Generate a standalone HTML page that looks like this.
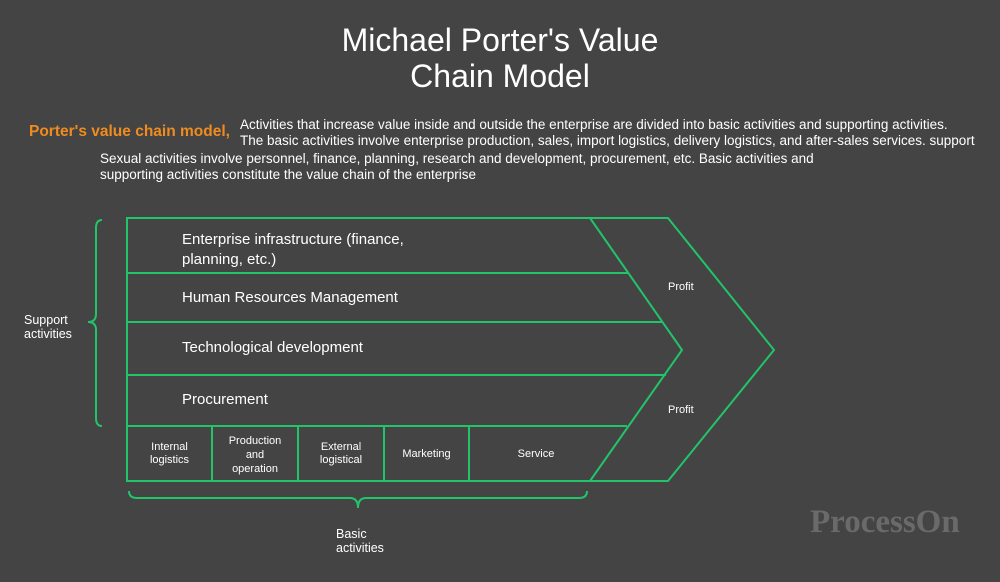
<!DOCTYPE html>
<html><head><meta charset="utf-8"><style>
html,body{margin:0;padding:0;background:#444444;}
body{width:1000px;height:582px;position:relative;overflow:hidden;font-family:"Liberation Sans",sans-serif;color:#fff;}
.t{position:absolute;white-space:nowrap;}
</style></head><body>
<div class="t" style="left:0;width:1000px;top:22px;text-align:center;font-size:32px;line-height:36px;">Michael Porter's Value<br>Chain Model</div>
<div class="t" style="left:29px;top:123px;font-size:15.5px;font-weight:bold;color:#f08c1e;">Porter's value chain model,</div>
<div class="t" style="left:240px;top:117px;font-size:13.5px;line-height:16px;">Activities that increase value inside and outside the enterprise are divided into basic activities and supporting activities.<br>The basic activities involve enterprise production, sales, import logistics, delivery logistics, and after-sales services. support</div>
<div class="t" style="left:100px;top:151px;font-size:13.5px;line-height:16px;">Sexual activities involve personnel, finance, planning, research and development, procurement, etc. Basic activities and<br>supporting activities constitute the value chain of the enterprise</div>
<svg width="1000" height="582" style="position:absolute;left:0;top:0" fill="none" stroke="#22c46a" stroke-width="2">
<path d="M127,218 H668 L774,350 L668,481 H127 Z"/>
<path d="M590,218 L682,350 L590,481"/>
<path d="M127,273 H628 M127,322 H662 M127,375 H666 M127,426 H627"/>
<path d="M212,426 V481 M298,426 V481 M384,426 V481 M469,426 V481"/>
<path d="M102,220 Q96,220 96,228 V314 Q96,322 88,322 Q96,322 96,330 V418 Q96,426 102,426"/>
<path d="M129,491 Q129,498 137,498 H350 Q358,498 358,508 Q358,498 366,498 H579 Q587,498 587,491"/>
</svg>
<div class="t" style="left:182px;top:230px;font-size:15px;line-height:20px;">Enterprise infrastructure (finance,<br>planning, etc.)</div>
<div class="t" style="left:182px;top:289px;font-size:15px;">Human Resources Management</div>
<div class="t" style="left:182px;top:339px;font-size:15px;">Technological development</div>
<div class="t" style="left:182px;top:391px;font-size:15px;">Procurement</div>
<div class="t" style="left:668px;top:281px;font-size:11px;">Profit</div>
<div class="t" style="left:668px;top:404px;font-size:11px;">Profit</div>
<div class="t" style="left:127px;width:85px;top:441px;text-align:center;font-size:11px;line-height:13px;">Internal<br>logistics</div>
<div class="t" style="left:212px;width:86px;top:434px;text-align:center;font-size:11px;line-height:14px;">Production<br>and<br>operation</div>
<div class="t" style="left:298px;width:86px;top:441px;text-align:center;font-size:11px;line-height:13px;">External<br>logistical</div>
<div class="t" style="left:384px;width:85px;top:448px;text-align:center;font-size:11px;">Marketing</div>
<div class="t" style="left:469px;width:134px;top:448px;text-align:center;font-size:11px;">Service</div>
<div class="t" style="left:24px;top:313px;font-size:12.5px;line-height:14px;">Support<br>activities</div>
<div class="t" style="left:336px;top:527px;font-size:12.5px;line-height:14px;">Basic<br>activities</div>
<div class="t" style="left:810px;top:504px;font-size:33px;font-weight:bold;font-family:'Liberation Serif',serif;color:#6a6a6a;">ProcessOn</div>
</body></html>
